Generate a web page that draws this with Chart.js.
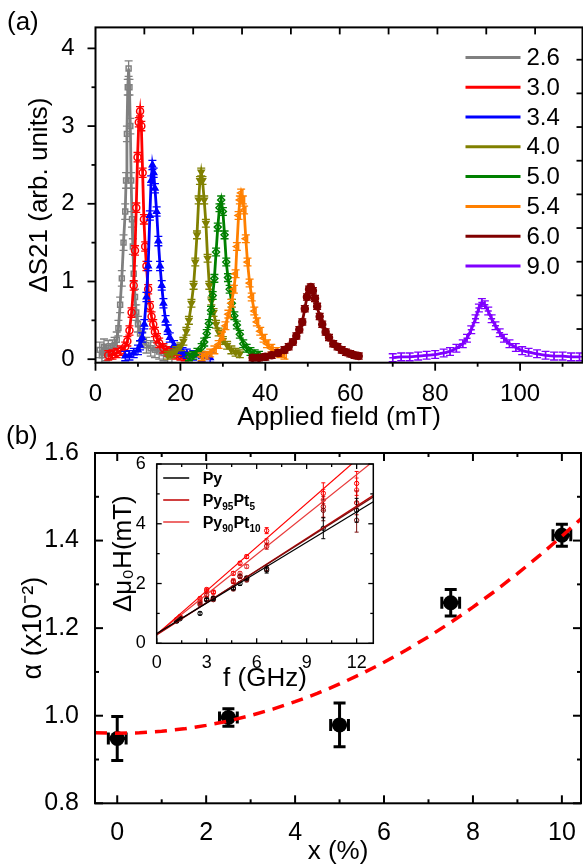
<!DOCTYPE html>
<html><head><meta charset="utf-8">
<script src="https://cdn.jsdelivr.net/npm/chart.js@4.4.1/dist/chart.umd.min.js"></script>
<style>
html,body{margin:0;padding:0;background:#fff;}
#wrap{position:relative;width:583px;height:868px;overflow:hidden;font-family:"Liberation Sans",Arial,sans-serif;}
canvas{position:absolute;}
.lbl{position:absolute;font-size:26px;line-height:1;color:#000;}
</style></head><body>
<div id="wrap">
<canvas id="cTop" width="583" height="440" style="left:0;top:0"></canvas>
<canvas id="cBot" width="583" height="438" style="left:0;top:430px"></canvas>
<canvas id="cIn" width="300" height="260" style="left:100px;top:440px"></canvas>
<div class="lbl" style="left:7px;top:8px">(a)</div>
<div class="lbl" style="left:6px;top:422px">(b)</div>
</div>
<script>
// ---------- Panel (a): ΔS21 vs applied field, one series per frequency (GHz)
const freqLabels = ['2.6','3.0','3.4','4.0','5.0','5.4','6.0','9.0'];
const field26 = [1.0,1.5,2.0,2.5,3.0,3.5,4.0,4.5,5.0,5.4,5.8,6.2,6.6,7.0,7.2,7.4,7.6,7.8,8.0,8.2,8.4,8.6,8.8,9.0,9.3,9.6,10.0,10.5,11.0,12.0,13.0,14.0,15.0,16.0,17.0,18.0];
const s26 = [0.12,0.05,0.16,0.08,0.14,0.1,0.15,0.18,0.25,0.4,0.7,1.04,1.5,1.9,2.3,2.9,3.5,3.74,3.5,3.0,2.3,1.8,1.45,1.1,0.8,0.6,0.45,0.33,0.25,0.18,0.14,0.12,0.1,0.08,0.06,0.05];
const field30 = [3,4,5,6,7,7.5,8,8.5,9,9.3,9.6,9.9,10.2,10.5,10.8,11.1,11.4,11.7,12,12.4,12.8,13.2,13.6,14,14.5,15,16,17,18,19,20,21];
const s30 = [0.05,0.06,0.08,0.11,0.16,0.23,0.37,0.6,0.95,1.4,1.95,2.6,3.05,3.19,3.0,2.4,1.8,1.45,1.2,0.9,0.68,0.55,0.45,0.35,0.27,0.21,0.14,0.1,0.08,0.06,0.05,0.04];
const field34 = [7,8,9,10,10.5,11,11.5,12,12.4,12.8,13.1,13.4,13.7,14,14.4,14.8,15.2,15.6,16,16.5,17,17.5,18.5,19.5,20.5,21.5,23,25,27];
const s34 = [0.04,0.05,0.08,0.12,0.18,0.28,0.45,0.8,1.2,1.85,2.3,2.5,2.4,2.2,1.9,1.52,1.2,0.95,0.72,0.5,0.38,0.28,0.18,0.13,0.09,0.07,0.05,0.03,0.02];
const field40 = [17,18,19,20,20.7,21.4,22,22.6,23.1,23.5,23.9,24.3,24.6,24.9,25.2,25.6,26,26.4,26.8,27.3,27.8,28.4,29,30,31,32,33,34];
const s40 = [0.05,0.07,0.11,0.16,0.23,0.36,0.5,0.72,0.95,1.25,1.6,2.05,2.3,2.41,2.3,2.05,1.75,1.3,0.95,0.75,0.6,0.45,0.35,0.24,0.18,0.12,0.09,0.07];
const field50 = [22,23,24,25,25.6,26.2,26.7,27.2,27.6,28,28.4,28.8,29.2,29.6,30,30.4,30.8,31.2,31.6,32.1,32.7,33.3,34,34.8,35.6,36.5,37.5,38.5];
const s50 = [0.03,0.05,0.09,0.15,0.22,0.33,0.46,0.63,0.82,1.04,1.38,1.7,1.95,2.05,1.9,1.6,1.25,1.05,0.9,0.72,0.56,0.44,0.32,0.2,0.14,0.1,0.07,0.05];
const field54 = [25,26,27,28,29,29.8,30.6,31.3,32,32.6,33,33.3,33.7,34,34.3,34.7,35,35.4,35.8,36.3,36.8,37.4,38,38.8,39.6,40.4,41.4,42.5,43.5,44.5];
const s54 = [0.03,0.05,0.08,0.12,0.19,0.3,0.43,0.58,0.72,0.9,1.1,1.45,1.85,2.05,2.14,2.05,1.92,1.55,1.25,0.98,0.8,0.62,0.48,0.36,0.27,0.2,0.14,0.1,0.07,0.05];
const field60 = [37,38.5,40,41.5,43,44.5,45.5,46.5,47.3,48,48.7,49.3,49.8,50.3,50.7,51.2,51.7,52.2,52.8,53.4,54.2,55,56,57,58,59,60,61,62];
const s60 = [0.02,0.02,0.03,0.05,0.08,0.12,0.16,0.22,0.3,0.38,0.48,0.65,0.8,0.9,0.93,0.88,0.78,0.68,0.55,0.45,0.35,0.28,0.2,0.16,0.12,0.09,0.07,0.05,0.04];
const field90 = [70,72,74,76,78,80,82,83.5,85,86.5,87.5,88.5,89.5,90.3,91,91.7,92.5,93.3,94.2,95.2,96.2,97.5,99,100.5,102,104,106,108,110,112,114];
const s90 = [0.02,0.03,0.03,0.04,0.05,0.06,0.08,0.1,0.14,0.2,0.27,0.38,0.52,0.66,0.73,0.7,0.62,0.52,0.43,0.34,0.27,0.2,0.15,0.11,0.09,0.07,0.05,0.04,0.04,0.03,0.03];
const signalErr = [0.1,0.06,0.06,0.05,0.05,0.05,0.04,0.05];
const topXTicks = [0,20,40,60,80,100];
const topXMinor = [10,30,50,70,90,110];
const topYTicks = [0,1,2,3,4];
const topYMinor = [0.5,1.5,2.5,3.5];

// ---------- Panel (b): damping vs Pt content
const ptContent = [0, 2.5, 5, 7.5, 10];
const alphaVal = [0.948, 0.996, 0.979, 1.258, 1.412];
const alphaErr = [0.05, 0.02, 0.05, 0.03, 0.025];
const ptErr = [0.2, 0.2, 0.2, 0.2, 0.2];
const fitX = [-0.5,0,0.5,1,1.5,2,2.5,3,3.5,4,4.5,5,5.5,6,6.5,7,7.5,8,8.5,9,9.5,10,10.5];
const fitAlpha = [0.961,0.960,0.961,0.9645,0.970,0.978,0.988,1.0005,1.015,1.032,1.051,1.0725,1.096,1.122,1.150,1.1805,1.213,1.248,1.285,1.3245,1.366,1.41,1.456];
const botXTicks = [0,2,4,6,8,10];
const botXMinor = [1,3,5,7,9];
const botYTicks = [0.8,1.0,1.2,1.4,1.6];
const botYMinor = [0.9,1.1,1.3,1.5];

// ---------- Inset: linewidth vs frequency
const insetLegendLabels = ['Py','Py95Pt5','Py90Pt10'];
const insetF = [1.2,1.4,2.6,3.0,3.4,4.6,5.0,5.4,6.6,10,12];
const dhPy = [0.74,0.82,1.0,1.45,1.5,1.85,2.0,2.18,2.45,3.85,4.45];
const dhPyB = [0.76,0.85,1.3,1.48,1.46,1.82,2.25,2.12,2.5,4.45,4.12];
const dhPt5 = [0.78,0.87,1.36,1.62,1.52,2.06,2.23,2.18,3.25,4.57,4.7];
const dhPt10a = [0.8,0.9,1.5,1.8,1.72,2.34,2.68,2.9,3.77,5.02,5.35];
const dhPt10b = [0.8,0.88,1.42,1.75,1.7,2.1,2.34,2.57,3.4,4.8,5.13];
const dhErr = [0.03,0.03,0.05,0.05,0.05,0.06,0.06,0.06,0.1,0.35,0.4];
const fitF = [0, 13];
const fitPy = [0.33, 4.74];
const fitPyB = [0.30, 4.90];
const fitPt5 = [0.28, 4.95];
const fitPt10a = [0.30, 6.63];
const fitPt10b = [0.30, 6.09];
const inXTicks = [0,3,6,9,12];
const inXMinor = [1.5,4.5,7.5,10.5];
const inYTicks = [0,2,4,6];
const inYMinor = [1,3,5];

// ---------- shared helpers / plugins
const F = "'Liberation Sans', Arial, Helvetica, sans-serif";
Chart.defaults.font.family = F;
Chart.defaults.color = '#000';
const pts = (xs, ys) => xs.map((x, i) => ({x: x, y: ys[i]}));
const fixTicks = arr => (s => { s.ticks = arr.map(v => ({value: v})); });

const errorBars = {
  id: 'errorBars',
  afterDatasetDraw(chart, args) {
    const ds = chart.data.datasets[args.index];
    if (ds.errY == null && ds.errX == null) return;
    const meta = args.meta, ctx = chart.ctx, a = chart.chartArea;
    const xs = chart.scales[meta.xAxisID], ys = chart.scales[meta.yAxisID];
    ctx.save();
    ctx.beginPath(); ctx.rect(a.left, a.top, a.right - a.left, a.bottom - a.top); ctx.clip();
    ctx.strokeStyle = ds.errColor || ds.borderColor;
    ctx.lineWidth = ds.errWidth || 1;
    const cap = (ds.capW || 6) / 2;
    meta.data.forEach((el, i) => {
      const v = ds.data[i];
      const ey = Array.isArray(ds.errY) ? ds.errY[i] : ds.errY;
      const ex = Array.isArray(ds.errX) ? ds.errX[i] : ds.errX;
      ctx.beginPath();
      if (ey) {
        const y1 = ys.getPixelForValue(v.y + ey), y2 = ys.getPixelForValue(v.y - ey);
        ctx.moveTo(el.x, y1); ctx.lineTo(el.x, y2);
        ctx.moveTo(el.x - cap, y1); ctx.lineTo(el.x + cap, y1);
        ctx.moveTo(el.x - cap, y2); ctx.lineTo(el.x + cap, y2);
      }
      if (ex) {
        const x1 = xs.getPixelForValue(v.x - ex), x2 = xs.getPixelForValue(v.x + ex);
        ctx.moveTo(x1, el.y); ctx.lineTo(x2, el.y);
        ctx.moveTo(x1, el.y - cap); ctx.lineTo(x1, el.y + cap);
        ctx.moveTo(x2, el.y - cap); ctx.lineTo(x2, el.y + cap);
      }
      ctx.stroke();
    });
    ctx.restore();
  }
};

const axisDeco = {
  id: 'axisDeco',
  afterDraw(chart, args, o) {
    const ctx = chart.ctx, a = chart.chartArea;
    ctx.save();
    ctx.strokeStyle = '#000';
    ctx.lineWidth = o.tickWidth;
    o.specs.forEach(s => {
      const sc = chart.scales[s.scale];
      const d = s.dir === 'in' ? 1 : -1;
      const draw = (vals, len) => vals.forEach(v => {
        const p = sc.getPixelForValue(v);
        ctx.beginPath();
        if (s.side === 'bottom') { ctx.moveTo(p, a.bottom); ctx.lineTo(p, a.bottom - d * len); }
        else if (s.side === 'top') { ctx.moveTo(p, a.top); ctx.lineTo(p, a.top + d * len); }
        else if (s.side === 'left') { ctx.moveTo(a.left, p); ctx.lineTo(a.left + d * len, p); }
        else { ctx.moveTo(a.right, p); ctx.lineTo(a.right - d * len, p); }
        ctx.stroke();
      });
      draw(s.major || [], s.majLen != null ? s.majLen : o.majLen);
      draw(s.minor || [], o.minLen);
    });
    ctx.lineWidth = o.frameWidth;
    ctx.strokeRect(a.left, a.top, a.right - a.left, a.bottom - a.top);
    ctx.restore();
  }
};

const lineLegend = {
  id: 'lineLegend',
  afterDraw(chart, args, o) {
    const ctx = chart.ctx, a = chart.chartArea;
    ctx.save();
    ctx.textBaseline = 'middle';
    o.items.forEach((it, i) => {
      const y = a.top + o.y0 + i * o.dy;
      ctx.strokeStyle = it.color; ctx.lineWidth = o.lineWidth;
      const bx = o.fromRight ? a.right : a.left;
      ctx.beginPath(); ctx.moveTo(bx + o.x0, y); ctx.lineTo(bx + o.x1, y); ctx.stroke();
      let x = bx + o.xt;
      ctx.fillStyle = '#000';
      it.text.split(o.subscripts ? /(\d+)/ : /(?!)/).filter(Boolean).forEach(part => {
        const sub = o.subscripts && /^\d+$/.test(part);
        ctx.font = `${o.weight} ${sub ? o.subSize : o.size}px ${F}`;
        ctx.fillText(part, x, sub ? y + o.textDy + o.subDy : y + o.textDy);
        x += ctx.measureText(part).width;
      });
    });
    ctx.restore();
  }
};

// ---------- Panel (a)
const topFields = [field26, field30, field34, field40, field50, field54, field60, field90];
const topSignals = [s26, s30, s34, s40, s50, s54, s60, s90];
const topColors = ['#808080','#ff0000','#0000ff','#808000','#008000','#ff8000','#800000','#8000ff'];
const topMarkers = ['rect','circle','triangle','triangle','rectRot','triangle','circle','cross'];
const topRot = [0,0,0,180,0,-90,0,0];
const topFilled = [false,false,true,true,false,false,true,false];

new Chart(document.getElementById('cTop'), {
  type: 'scatter',
  data: {
    datasets: freqLabels.map((lab, i) => ({
      label: lab,
      data: pts(topFields[i], topSignals[i]),
      showLine: true,
      borderColor: topColors[i],
      backgroundColor: topFilled[i] ? topColors[i] : 'rgba(0,0,0,0)',
      borderWidth: 2.8,
      pointStyle: topMarkers[i],
      pointRotation: topRot[i],
      pointRadius: 3.5,
      pointBorderWidth: 1.5,
      order: 10 - i,
      errY: signalErr[i], capW: 8, errWidth: 1.3
    }))
  },
  options: {
    responsive: false, animation: false, events: [],
    layout: {autoPadding: false, padding: {top: 6, right: 0.5, left: 0, bottom: 0}},
    plugins: {
      legend: {display: false}, tooltip: {enabled: false},
      axisDeco: {tickWidth: 1.8, frameWidth: 2, majLen: 8, minLen: 4, specs: [
        {scale: 'x', side: 'bottom', dir: 'out', major: topXTicks, minor: topXMinor},
        {scale: 'y', side: 'left', dir: 'out', major: topYTicks, minor: topYMinor},
        {scale: 'x2', side: 'top', dir: 'in', major: [1,2,3,4,5,6,7,8,9], majLen: 7},
        {scale: 'y2', side: 'right', dir: 'in', major: [1,2,3,4,5,6,7,8,9], majLen: 6}
      ]},
      lineLegend: {fromRight: true, x0: -117, x1: -62, xt: -56, y0: 30, dy: 29.8, lineWidth: 3,
        size: 24, weight: 'normal', textDy: 1, subscripts: false, subSize: 14, subDy: 0,
        items: freqLabels.map((t, i) => ({text: t, color: topColors[i]}))}
    },
    scales: {
      x: {type: 'linear', position: 'bottom', min: 0, max: 114.7,
        afterBuildTicks: fixTicks(topXTicks), afterFit: s => { s.height = 77.3; },
        grid: {display: false}, border: {display: false},
        ticks: {font: {size: 24}, color: '#000', padding: 9, maxRotation: 0, autoSkip: false},
        title: {display: true, text: 'Applied field (mT)', font: {size: 26}, color: '#000', padding: {top: 0, bottom: 7}}},
      y: {type: 'linear', position: 'left', min: -0.045, max: 4.27,
        afterBuildTicks: fixTicks(topYTicks), afterFit: s => { s.width = 95.5; },
        grid: {display: false}, border: {display: false},
        ticks: {font: {size: 24}, color: '#000', padding: 13},
        title: {display: true, text: 'ΔS21 (arb. units)', font: {size: 26}, color: '#000', padding: {top: 24, bottom: 0}}},
      x2: {type: 'linear', position: 'top', min: 0, max: 9.97,
        ticks: {display: false}, grid: {display: false}, border: {display: false}, afterFit: s => { s.height = 0; }},
      y2: {type: 'linear', position: 'right', min: 0, max: 9.96,
        ticks: {display: false}, grid: {display: false}, border: {display: false}, afterFit: s => { s.width = 0; }}
    }
  },
  plugins: [errorBars, axisDeco, lineLegend]
});

// ---------- Panel (b)
new Chart(document.getElementById('cBot'), {
  type: 'scatter',
  data: {
    datasets: [
      {label: 'fit', data: pts(fitX, fitAlpha), showLine: true, borderColor: '#ff0000', borderWidth: 3.5,
        borderDash: [12, 8], pointRadius: 0, tension: 0, order: 0},
      {label: 'alpha', data: pts(ptContent, alphaVal), showLine: false, pointRadius: 7.5,
        backgroundColor: '#000', borderColor: '#000', pointBorderWidth: 0, order: 1,
        errY: alphaErr, errX: ptErr, capW: 12, errWidth: 3}
    ]
  },
  options: {
    responsive: false, animation: false, events: [],
    layout: {autoPadding: false, padding: {top: 16.7, right: 2, left: 0, bottom: 0}},
    plugins: {
      legend: {display: false}, tooltip: {enabled: false},
      axisDeco: {tickWidth: 2, frameWidth: 2, majLen: 8, minLen: 4, specs: [
        {scale: 'x', side: 'bottom', dir: 'in', major: botXTicks, minor: botXMinor},
        {scale: 'x', side: 'top', dir: 'in', major: botXTicks, minor: botXMinor},
        {scale: 'y', side: 'left', dir: 'in', major: botYTicks, minor: botYMinor},
        {scale: 'y', side: 'right', dir: 'in', major: botYTicks, minor: botYMinor}
      ]}
    },
    scales: {
      x: {type: 'linear', position: 'bottom', min: -0.5, max: 10.43,
        afterBuildTicks: fixTicks(botXTicks), afterFit: s => { s.height = 64.7; },
        grid: {display: false}, border: {display: false},
        ticks: {font: {size: 25}, color: '#000', padding: 7, maxRotation: 0, autoSkip: false},
        title: {display: true, text: 'x (%)', font: {size: 26}, color: '#000', padding: {top: 0, bottom: 1}}},
      y: {type: 'linear', position: 'left', min: 0.8, max: 1.6,
        afterBuildTicks: fixTicks(botYTicks), afterFit: s => { s.width = 95; },
        grid: {display: false}, border: {display: false},
        ticks: {font: {size: 25}, color: '#000', padding: 8, callback: v => Number(v).toFixed(1)},
        title: {display: true, text: 'α (x10⁻²)', font: {size: 27}, color: '#000', padding: {top: 17, bottom: 0}}}
    }
  },
  plugins: [errorBars, axisDeco]
});

// ---------- Inset
const inColors = ['#000000','#7a1010','#c00000','#ff0000','#e83a3a'];
const inData = [dhPy, dhPyB, dhPt5, dhPt10a, dhPt10b];
const inFits = [fitPy, fitPyB, fitPt5, fitPt10a, fitPt10b];
const inDatasets = [];
inFits.forEach((f, i) => inDatasets.push({label: 'fit' + i, data: pts(fitF, f), showLine: true,
  borderColor: inColors[i], borderWidth: 1.2, pointRadius: 0, tension: 0}));
inData.forEach((d, i) => inDatasets.push({label: 'data' + i, data: pts(insetF, d), showLine: false,
  borderColor: inColors[i], backgroundColor: 'rgba(0,0,0,0)', pointRadius: 2.2, pointBorderWidth: 1,
  errY: dhErr, capW: 4, errWidth: 1}));

new Chart(document.getElementById('cIn'), {
  type: 'scatter',
  data: {datasets: inDatasets},
  options: {
    responsive: false, animation: false, events: [],
    layout: {autoPadding: false, padding: {top: 24, right: 26.7, left: 0, bottom: 0}},
    plugins: {
      legend: {display: false}, tooltip: {enabled: false},
      axisDeco: {tickWidth: 1.3, frameWidth: 1.5, majLen: 5, minLen: 3, specs: [
        {scale: 'x', side: 'bottom', dir: 'in', major: inXTicks, minor: inXMinor},
        {scale: 'x', side: 'top', dir: 'in', major: inXTicks, minor: inXMinor},
        {scale: 'y', side: 'left', dir: 'in', major: inYTicks, minor: inYMinor},
        {scale: 'y', side: 'right', dir: 'in', major: inYTicks, minor: inYMinor}
      ]},
      lineLegend: {fromRight: false, x0: 6.5, x1: 32.5, xt: 46, y0: 14, dy: 22, lineWidth: 1.5,
        size: 16, weight: 'bold', textDy: 2, subscripts: true, subSize: 10, subDy: 5,
        items: insetLegendLabels.map((t, i) => ({text: t, color: ['#000000','#c00000','#e83a3a'][i]}))}
    },
    scales: {
      x: {type: 'linear', position: 'bottom', min: 0, max: 13,
        afterBuildTicks: fixTicks(inXTicks), afterFit: s => { s.height = 56.7; },
        grid: {display: false}, border: {display: false},
        ticks: {font: {size: 18}, color: '#000', padding: 1, maxRotation: 0, autoSkip: false},
        title: {display: true, text: 'f (GHz)', font: {size: 26}, color: '#000', padding: {top: 0, bottom: 6}}},
      y: {type: 'linear', position: 'left', min: 0, max: 6,
        afterBuildTicks: fixTicks(inYTicks), afterFit: s => { s.width = 56.7; },
        grid: {display: false}, border: {display: false},
        ticks: {font: {size: 18}, color: '#000', padding: 3},
        title: {display: true, text: 'Δμ₀H(mT)', font: {size: 26}, color: '#000', padding: {top: 8, bottom: 0}}}
    }
  },
  plugins: [errorBars, axisDeco, lineLegend]
});
</script>
</body></html>
